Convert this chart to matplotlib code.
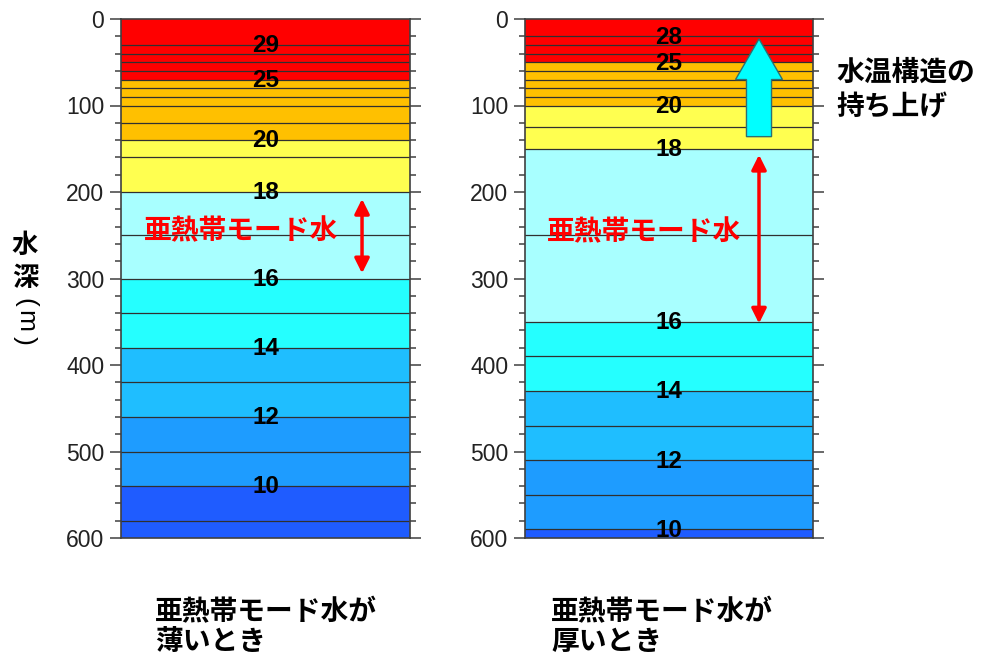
import matplotlib
matplotlib.use("Agg")
import matplotlib.pyplot as plt
import matplotlib.patches as mpatches
import numpy as np

# isotherm depths (m) and their temperatures (deg C)
thin_depths = [30, 40, 50, 60, 70, 80, 90, 100, 120, 140, 160, 200,
               250, 300, 340, 380, 420, 460, 500, 540, 580]
thin_temps = [29, 28, 27, 26, 25, 24, 23, 22, 21, 20, 19, 18,
              17, 16, 15, 14, 13, 12, 11, 10, 9]
thin_labels = [29, 25, 20, 18, 16, 14, 12, 10]

thick_depths = [20, 30, 40, 50, 60, 70, 80, 90, 100, 125, 150,
                250, 350, 390, 430, 470, 510, 550, 590]
thick_temps = [28, 27, 26, 25, 24, 23, 22, 21, 20, 19, 18,
               17, 16, 15, 14, 13, 12, 11, 10]
thick_labels = [28, 25, 20, 18, 16, 14, 12, 10]

# colour classes: bands bounded by these temperatures (warm -> cold)
band_temps = [25, 20, 18, 16, 14, 12, 10]
band_colors = ['#FF0000', '#FFC000', '#FFFF50', '#A8FFFF', '#25FFFF',
               '#1FBEFF', '#1E9CFF', '#1F5CFF']

mode_arrow_thin = (208, 294)
mode_arrow_thick = (157, 352)
lift_arrow = (136, 23)

max_depth = 600
yticks_major = np.arange(0, 601, 100)
yticks_minor = np.arange(0, 601, 20)

JP = ['Noto Sans CJK JP', 'DejaVu Sans']
NUM = ['Liberation Sans', 'DejaVu Sans']


def draw_column(ax, depths, temps, labels):
    # colour bands
    edges = [0] + [depths[temps.index(t)] for t in band_temps] + [max_depth]
    for i in range(len(band_colors)):
        ax.axhspan(edges[i], edges[i + 1], color=band_colors[i], lw=0, zorder=1)
    # isotherm lines
    for d in depths:
        ax.axhline(d, color='#303030', lw=0.9, zorder=2)
    # temperature labels
    for t in labels:
        d = depths[temps.index(t)]
        ax.text(0.5, d + 1, str(t), ha='center', va='center', fontsize=17.5,
                fontweight='bold', family=NUM, zorder=4)

    ax.set_xlim(0, 1)
    ax.set_ylim(max_depth, 0)
    ax.set_xticks([])
    ax.set_yticks(yticks_major)
    ax.set_yticks(yticks_minor, minor=True)
    ax.tick_params(axis='y', which='both', direction='out', left=True, right=True,
                   labelright=False, colors='#404040', width=1.1)
    ax.tick_params(axis='y', which='major', length=8, labelsize=16.5, pad=4,
                   labelcolor='#222222')
    ax.tick_params(axis='y', which='minor', length=4)
    for lab in ax.get_yticklabels():
        lab.set_family(NUM)
    for sp in ax.spines.values():
        sp.set_color('#404040')
        sp.set_linewidth(1.2)
        sp.set_zorder(5)


fig = plt.figure(figsize=(9.88, 6.59), dpi=100)
ax1 = fig.add_axes([121 / 988, 121 / 659, 289 / 988, 519 / 659])
ax2 = fig.add_axes([525 / 988, 121 / 659, 288 / 988, 519 / 659])

draw_column(ax1, thin_depths, thin_temps, thin_labels)
draw_column(ax2, thick_depths, thick_temps, thick_labels)

# mode water annotations
red_arrow = dict(arrowstyle='<|-|>', color='#FF0000', lw=2.5,
                 mutation_scale=22, shrinkA=0, shrinkB=0)
ax1.annotate('', xy=(0.834, mode_arrow_thin[0]), xytext=(0.834, mode_arrow_thin[1]),
             arrowprops=red_arrow, zorder=6)
ax2.annotate('', xy=(0.8125, mode_arrow_thick[0]), xytext=(0.8125, mode_arrow_thick[1]),
             arrowprops=red_arrow, zorder=6)
ax1.text(0.08, 245, '亜熱帯モード水', color='#FF0000', fontsize=20,
         fontweight='bold', family=JP, ha='left', va='center', zorder=6)
ax2.text(0.076, 247, '亜熱帯モード水', color='#FF0000', fontsize=20,
         fontweight='bold', family=JP, ha='left', va='center', zorder=6)

# lifting arrow
lift = mpatches.FancyArrow(0.8125, lift_arrow[0], 0, lift_arrow[1] - lift_arrow[0],
                           width=0.087, head_width=0.163, head_length=47,
                           length_includes_head=True, facecolor='#00FFFF',
                           edgecolor='#2F6F70', lw=1.0, zorder=6)
ax2.add_patch(lift)

fig.text(836 / 988, 1 - 73 / 659, '水温構造の', fontsize=20, fontweight='bold',
         family=JP, ha='left', va='center')
fig.text(836 / 988, 1 - 108 / 659, '持ち上げ', fontsize=20, fontweight='bold',
         family=JP, ha='left', va='center')

# y label, vertical writing: 水深 upright, (m) turned sideways
fig.text(25 / 988, 1 - 245 / 659, '水', fontsize=19, fontweight='bold',
         family=JP, ha='center', va='center')
fig.text(25 / 988, 1 - 278 / 659, '深', fontsize=19, fontweight='bold',
         family=JP, ha='center', va='center')
for ch, yy in [('(', 302), ('m', 321), (')', 340)]:
    fig.text(25 / 988, 1 - yy / 659, ch, fontsize=19, family=NUM,
             ha='center', va='center', rotation=-90)

# captions
for x0, line2 in [(155, '薄いとき'), (551, '厚いとき')]:
    fig.text(x0 / 988, 1 - 612 / 659, '亜熱帯モード水が', fontsize=20,
             fontweight='bold', family=JP, ha='left', va='center')
    fig.text(x0 / 988, 1 - 642 / 659, line2, fontsize=20,
             fontweight='bold', family=JP, ha='left', va='center')

fig.savefig('out.png', dpi=100)
